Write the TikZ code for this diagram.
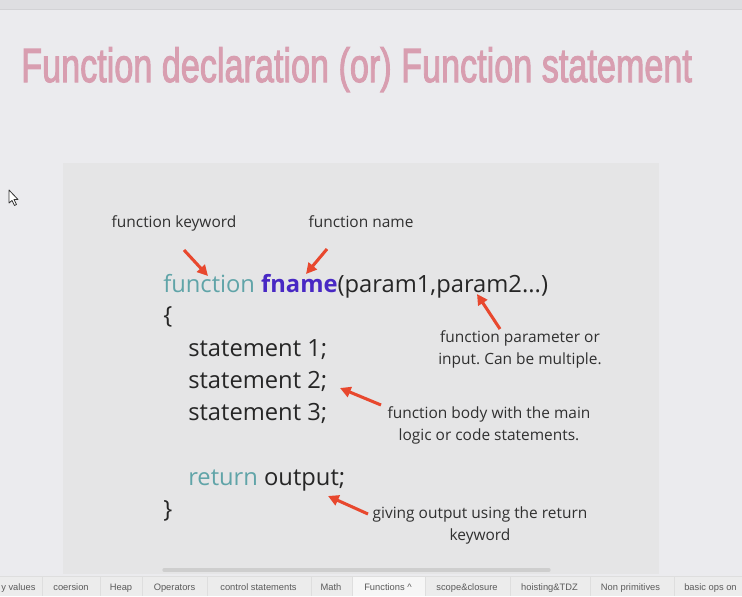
\documentclass[tikz,border=0pt]{standalone}
\usepackage{fontspec}
\setmainfont{Open Sans}
\newfontfamily\titlefont[FakeBold=2.5]{Liberation Sans}
\newfontfamily\tabfont{Liberation Sans}
\usetikzlibrary{arrows.meta}
\definecolor{bgc}{RGB}{235,235,238}
\definecolor{topbar}{RGB}{222,222,225}
\definecolor{topline}{RGB}{210,210,213}
\definecolor{panelc}{RGB}{229,229,230}
\definecolor{titlec}{RGB}{216,158,176}
\definecolor{kwc}{RGB}{96,164,168}
\definecolor{fnc}{RGB}{72,40,196}
\definecolor{txtc}{RGB}{38,38,38}
\definecolor{lblc}{RGB}{48,48,48}
\definecolor{arrowc}{RGB}{232,72,46}
\definecolor{tabbg}{RGB}{236,236,236}
\definecolor{tabhi}{RGB}{246,246,246}
\definecolor{tabtxt}{RGB}{90,90,90}
\definecolor{tabsep}{RGB}{222,222,222}
\definecolor{scrollc}{RGB}{206,206,206}
\frenchspacing
\begin{document}
\begin{tikzpicture}[x=0.75pt,y=-0.75pt,
  code/.style={inner sep=0pt,anchor=base west,text=txtc,font=\fontsize{17.8}{22}\selectfont},
  lbl/.style={inner sep=0pt,text=lblc,align=center,font=\fontsize{11.6}{16.5}\selectfont},
  tab/.style={inner sep=0pt,anchor=base,text=tabtxt,font=\tabfont\fontsize{7}{8}\selectfont},
  redarrow/.style={draw=arrowc,line width=2.3pt,-{Triangle[length=8pt,width=8pt]},shorten >=0pt}]
\useasboundingbox (0,0) rectangle (742,596);
\fill[bgc] (0,0) rectangle (742,596);
\fill[topbar] (0,0) rectangle (742,9);
\draw[topline,line width=0.75pt] (0,9.5) -- (742,9.5);
% panel
\fill[panelc] (63,163) rectangle (659,574);
% title
\node[inner sep=0pt,anchor=base west,text=titlec] (title) at (21,82)
  {\resizebox{503pt}{26pt}{\titlefont Function declaration (or) Function statement}};
% cursor
\draw[fill=white,draw=black!80,line width=0.6pt,line join=round]
  (9,190) -- (9,203) -- (12,200.5) -- (14.5,205.5) -- (16.5,204.5) -- (14,199.5) -- (18,199.5) -- cycle;
% code
\node[code] (sig) at (163,292) {{\color{kwc}function} {\color{fnc}\bfseries fname}(param1,param2...)};
\node[code] (lbrace) at (163,323) {\{};
\node[code] (st1) at (188,356) {statement 1;};
\node[code] (st2) at (188,388) {statement 2;};
\node[code] (st3) at (188,420) {statement 3;};
\node[code] (ret) at (188,485) {{\color{kwc}return} output;};
\node[code] (rbrace) at (163,517) {\}};
% labels
\node[lbl,anchor=base] (lkw) at (174,227) {function keyword};
\node[lbl,anchor=base] (lname) at (361,227) {function name};
\node[lbl] (lparam) at (520,349) {function parameter or\\input. Can be multiple.};
\node[lbl] (lbody) at (489,425) {function body with the main\\logic or code statements.};
\node[lbl] (lout) at (480,525) {giving output using the return\\keyword};
% arrow coordinates
\coordinate (a1s) at (184,250);
\coordinate (a1e) at (208,276);
\coordinate (a2s) at (327,249);
\coordinate (a2e) at (306,274);
\coordinate (a3s) at (500,329);
\coordinate (a3e) at (477,294);
\coordinate (a4s) at (381,405);
\coordinate (a4e) at (340,388);
\coordinate (a5s) at (368,514);
\coordinate (a5e) at (328,496);
\draw[redarrow] (a1s) -- (a1e);
\draw[redarrow] (a2s) -- (a2e);
\draw[redarrow] (a3s) -- (a3e);
\draw[redarrow] (a4s) -- (a4e);
\draw[redarrow] (a5s) -- (a5e);
% scrollbar
\draw[scrollc,line width=2.5pt,line cap=round] (164,570) -- (549,570);
% tab bar
\fill[tabbg] (0,576) rectangle (742,596);
\draw[tabsep,line width=0.6pt] (0,576) -- (742,576);
\fill[tabhi] (352,577) rectangle (425,596);
\foreach \x in {42,100,142,207,311,352,425,510,590,674}
  \draw[tabsep,line width=0.6pt] (\x,577) -- (\x,596);
\node[tab,anchor=base west] (t0) at (1,590) {y values};
\node[tab] (t1) at (71,590) {coersion};
\node[tab] (t2) at (121,590) {Heap};
\node[tab] (t3) at (174.5,590) {Operators};
\node[tab] (t4) at (258.5,590) {control statements};
\node[tab] (t5) at (331,590) {Math};
\node[tab] (t6) at (388,590) {Functions \^{}};
\node[tab] (t7) at (467,590) {scope\&closure};
\node[tab] (t8) at (549.5,590) {hoisting\&TDZ};
\node[tab] (t9) at (630.5,590) {Non primitives};
\node[tab,anchor=base west] (t10) at (684,590) {basic ops on};
\end{tikzpicture}
\end{document}
